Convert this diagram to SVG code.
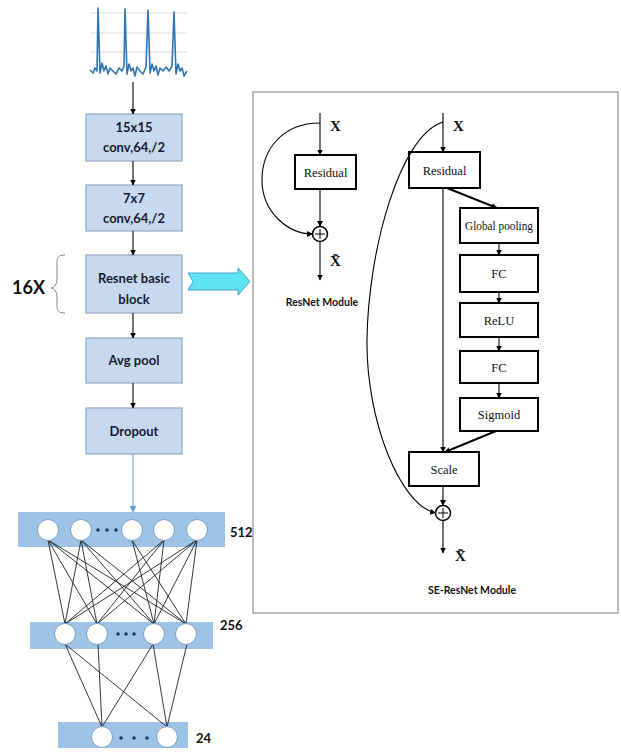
<svg xmlns="http://www.w3.org/2000/svg" width="621" height="753" viewBox="0 0 621 753">
<style>
.bx{fill:#c6d9ef;stroke:#8da8c6;stroke-width:1.2}
.bt{font-family:Lato,"Open Sans","Liberation Sans",sans-serif;font-weight:bold;font-size:13px;fill:#1a1a2e;text-anchor:middle}
.ln{stroke:#000;stroke-width:1.1;fill:none}
.rb{fill:#fff;stroke:#000;stroke-width:2}
.rt{font-family:"Liberation Serif","Times New Roman",serif;font-size:12.5px;fill:#111;text-anchor:middle}
.xt{font-family:"Liberation Serif","Times New Roman",serif;font-size:15px;font-weight:bold;fill:#111}
.mt{font-family:Lato,"Open Sans","Liberation Sans",sans-serif;font-weight:bold;font-size:10.5px;fill:#111;text-anchor:middle}
.band{fill:#9dc3e6}
.nc{fill:#fff;stroke:#7f9fc2;stroke-width:1}
.ed{stroke:#222;stroke-width:0.9}
.dot{fill:#1f3864}
.lt{font-family:Lato,"Open Sans","Liberation Sans",sans-serif;font-weight:bold;font-size:13px;fill:#111}
</style>
<defs>
<marker id="ah" markerWidth="6" markerHeight="6" refX="5.5" refY="3" orient="auto" markerUnits="userSpaceOnUse"><path d="M0,0 L6,3 L0,6 Z" fill="#000"/></marker>
<marker id="ahb" markerWidth="7" markerHeight="7" refX="6.5" refY="3.5" orient="auto" markerUnits="userSpaceOnUse"><path d="M0,0 L7,3.5 L0,7 Z" fill="#5b9bd5"/></marker>
</defs>
<rect width="621" height="753" fill="#fff"/>

<g id="ecg">
<g stroke="#d6d6d6" stroke-width="0.9">
<line x1="90" y1="13" x2="187" y2="13"/>
<line x1="90" y1="33" x2="187" y2="33"/>
<line x1="90" y1="52" x2="187" y2="52"/>
</g>
<path d="M90,70 L93,73 L95,68 L97,71 L98,8 L100,73 L102,63 L104,71 L106,66 L108,74 L110,68 L113,71 L116,74 L119,68 L122,71 L124,66 L125,9 L127,74 L129,64 L131,71 L133,68 L135,76 L137,67 L140,71 L143,74 L146,67 L148,10 L150,73 L152,64 L154,71 L156,66 L158,75 L160,68 L163,71 L166,67 L169,71 L172,66 L174,12 L176,74 L178,64 L180,71 L182,68 L184,76 L187,71" fill="none" stroke="#2e75b6" stroke-width="1.6" stroke-linejoin="round"/>
</g>

<g id="conv15">
<rect class="bx" x="86" y="114" width="96" height="47"/>
<text class="bt" x="134" y="132">15x15</text>
<text class="bt" x="134" y="152">conv,64,/2</text>
</g>
<g id="conv7">
<rect class="bx" x="86" y="185" width="96" height="46"/>
<text class="bt" x="134" y="203">7x7</text>
<text class="bt" x="134" y="223">conv,64,/2</text>
</g>
<g id="resblock">
<rect class="bx" x="86" y="255" width="96" height="58"/>
<text class="bt" x="134" y="283">Resnet basic</text>
<text class="bt" x="134" y="304">block</text>
</g>
<g id="avgpool">
<rect class="bx" x="86" y="338" width="96" height="45"/>
<text class="bt" x="134" y="365">Avg pool</text>
</g>
<g id="dropout">
<rect class="bx" x="86" y="408" width="96" height="46"/>
<text class="bt" x="134" y="436">Dropout</text>
</g>

<g id="repeat">
<path d="M65,255 C58,255 57,258 57,263 L57,279 C57,284 55,287 51,288 C55,289 57,292 57,297 L57,305 C57,310 58,313 65,313" fill="none" stroke="#888" stroke-width="1"/>
<text x="12" y="294" font-family="Lato,'Open Sans','Liberation Sans',sans-serif" font-weight="bold" font-size="18" fill="#111">16X</text>
</g>

<g id="bigarrow">
<path d="M188,273 L238,273 L238,268 L250,281.5 L238,295 L238,290 L188,290 L193,281.5 Z" fill="#5fe3f2" stroke="#3fa5c5" stroke-width="1"/>
</g>

<g id="connectors">
<line class="ln" x1="133" y1="82" x2="133" y2="114" marker-end="url(#ah)"/>
<line class="ln" x1="133" y1="161" x2="133" y2="185" marker-end="url(#ah)"/>
<line class="ln" x1="133" y1="231" x2="133" y2="255" marker-end="url(#ah)"/>
<line class="ln" x1="133" y1="313" x2="133" y2="338" marker-end="url(#ah)"/>
<line class="ln" x1="133" y1="383" x2="133" y2="408" marker-end="url(#ah)"/>
<line x1="133" y1="454" x2="133" y2="512" stroke="#5b9bd5" stroke-width="1" marker-end="url(#ahb)"/>
</g>

<g id="nn">
<rect class="band" x="18" y="512" width="207" height="35"/>
<rect class="band" x="30" y="622" width="183" height="27"/>
<rect class="band" x="58" y="722" width="130" height="26"/>
<g id="nn-edges" class="ed">
<line x1="48" y1="540" x2="65" y2="624"/>
<line x1="48" y1="540" x2="97" y2="624"/>
<line x1="48" y1="540" x2="154" y2="624"/>
<line x1="48" y1="540" x2="186" y2="624"/>
<line x1="81" y1="540" x2="65" y2="624"/>
<line x1="81" y1="540" x2="97" y2="624"/>
<line x1="81" y1="540" x2="154" y2="624"/>
<line x1="81" y1="540" x2="186" y2="624"/>
<line x1="132" y1="540" x2="154" y2="624"/>
<line x1="132" y1="540" x2="186" y2="624"/>
<line x1="164" y1="540" x2="65" y2="624"/>
<line x1="164" y1="540" x2="97" y2="624"/>
<line x1="164" y1="540" x2="154" y2="624"/>
<line x1="197" y1="540" x2="65" y2="624"/>
<line x1="197" y1="540" x2="97" y2="624"/>
<line x1="197" y1="540" x2="154" y2="624"/>
<line x1="197" y1="540" x2="186" y2="624"/>
<line x1="65" y1="644" x2="102" y2="727"/>
<line x1="65" y1="644" x2="167" y2="727"/>
<line x1="98" y1="644" x2="102" y2="727"/>
<line x1="153" y1="644" x2="102" y2="727"/>
<line x1="153" y1="644" x2="167" y2="727"/>
<line x1="187" y1="644" x2="167" y2="727"/>
</g>
<g id="layer512">
<circle class="nc" cx="48" cy="530" r="10.5"/>
<circle class="nc" cx="81" cy="530" r="10.5"/>
<circle class="nc" cx="132" cy="530" r="10.5"/>
<circle class="nc" cx="164" cy="530" r="10.5"/>
<circle class="nc" cx="197" cy="530" r="10.5"/>
<circle class="dot" cx="98" cy="530" r="1.8"/>
<circle class="dot" cx="107" cy="530" r="1.8"/>
<circle class="dot" cx="116" cy="530" r="1.8"/>
<text class="lt" x="230" y="537">512</text>
</g>
<g id="layer256">
<circle class="nc" cx="65" cy="634" r="10.5"/>
<circle class="nc" cx="97" cy="634" r="10.5"/>
<circle class="nc" cx="154" cy="634" r="10.5"/>
<circle class="nc" cx="186" cy="634" r="10.5"/>
<circle class="dot" cx="118" cy="634" r="1.8"/>
<circle class="dot" cx="126" cy="634" r="1.8"/>
<circle class="dot" cx="134" cy="634" r="1.8"/>
<text class="lt" x="220" y="630">256</text>
</g>
<g id="layer24">
<circle class="nc" cx="102" cy="737" r="10.5"/>
<circle class="nc" cx="167" cy="737" r="10.5"/>
<circle class="dot" cx="121" cy="738" r="1.8"/>
<circle class="dot" cx="134" cy="738" r="1.8"/>
<circle class="dot" cx="147" cy="738" r="1.8"/>
<text class="lt" x="196" y="743">24</text>
</g>
</g>

<g id="panel">
<rect x="253" y="92" width="365" height="521" fill="none" stroke="#999" stroke-width="1.3"/>
</g>

<g id="resnet-module">
<g id="rn-residual"><rect class="rb" x="295" y="155" width="61" height="34"/><text class="rt" x="325.5" y="177">Residual</text></g>
<g id="rn-add"><circle cx="320" cy="234" r="7.5" fill="#fff" stroke="#000" stroke-width="1.5"/><path d="M320,229 V239 M315,234 H325" stroke="#000" stroke-width="1"/></g>
<text class="xt" x="330" y="131">X</text>
<text class="xt" x="330" y="266">X̃</text>
<text class="mt" x="322" y="306">ResNet Module</text>
</g>

<g id="se-module">
<g id="se-residual"><rect class="rb" x="409" y="152" width="71" height="36"/><text class="rt" x="444.5" y="175">Residual</text></g>
<g id="se-gpool"><rect class="rb" x="460" y="208" width="78" height="35"/><text class="rt" x="499" y="230" textLength="68" lengthAdjust="spacingAndGlyphs">Global pooling</text></g>
<g id="se-fc1"><rect class="rb" x="460" y="255" width="78" height="37"/><text class="rt" x="499" y="278">FC</text></g>
<g id="se-relu"><rect class="rb" x="460" y="303" width="78" height="34"/><text class="rt" x="499" y="325">ReLU</text></g>
<g id="se-fc2"><rect class="rb" x="460" y="351" width="78" height="32"/><text class="rt" x="499" y="372">FC</text></g>
<g id="se-sigmoid"><rect class="rb" x="460" y="398" width="78" height="33"/><text class="rt" x="499" y="419">Sigmoid</text></g>
<g id="se-scale"><rect class="rb" x="409" y="452" width="70" height="34"/><text class="rt" x="444" y="474">Scale</text></g>
<g id="se-add"><circle cx="443" cy="513" r="7.5" fill="#fff" stroke="#000" stroke-width="1.5"/><path d="M443,508 V518 M438,513 H448" stroke="#000" stroke-width="1"/></g>
<text class="xt" x="453" y="131">X</text>
<text class="xt" x="455" y="561">X̃</text>
<text class="mt" x="472" y="594">SE-ResNet Module</text>
</g>

<g id="panel-connectors">
<line class="ln" x1="320" y1="113" x2="320" y2="155" marker-end="url(#ah)"/>
<line class="ln" x1="320" y1="189" x2="320" y2="226.5" marker-end="url(#ah)"/>
<path class="ln" d="M320,123 C282,123 262,150 262,180 C262,212 288,234 312.5,234" marker-end="url(#ah)"/>
<line class="ln" x1="320" y1="241.5" x2="320" y2="280" marker-end="url(#ah)"/>

<line class="ln" x1="443" y1="113" x2="443" y2="152" marker-end="url(#ah)"/>
<line class="ln" x1="443" y1="188" x2="443" y2="452" marker-end="url(#ah)"/>
<line x1="447" y1="188" x2="497" y2="208" stroke="#000" stroke-width="2" marker-end="url(#ah)"/>
<line class="ln" x1="499" y1="243" x2="499" y2="255" marker-end="url(#ah)"/>
<line class="ln" x1="499" y1="292" x2="499" y2="303" marker-end="url(#ah)"/>
<line class="ln" x1="499" y1="337" x2="499" y2="351" marker-end="url(#ah)"/>
<line class="ln" x1="499" y1="383" x2="499" y2="398" marker-end="url(#ah)"/>
<line x1="496" y1="431" x2="445" y2="452" stroke="#000" stroke-width="2" marker-end="url(#ah)"/>
<line class="ln" x1="443" y1="486" x2="443" y2="505.5" marker-end="url(#ah)"/>
<path class="ln" d="M443,122 C400,135 368,250 367,340 C366,420 400,505 435.5,513" marker-end="url(#ah)"/>
<line class="ln" x1="443" y1="520.5" x2="443" y2="553" marker-end="url(#ah)"/>
</g>
</svg>
